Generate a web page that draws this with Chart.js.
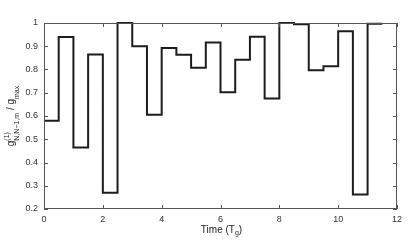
<!DOCTYPE html>
<html><head><meta charset="utf-8">
<script src="https://cdn.jsdelivr.net/npm/chart.js@4/dist/chart.umd.min.js"></script>
<style>html,body{margin:0;padding:0;background:#fff}#c{display:block}</style>
</head><body>
<canvas id="c" width="415" height="241"></canvas>
<script>
const stepStarts = [0,0.5,1,1.5,2,2.5,3,3.5,4,4.5,5,5.5,6,6.5,7,7.5,8,8.5,9,9.5,10,10.5,11,11.5];
const stepValues = [0.58,0.94,0.465,0.865,0.27,1.0,0.90,0.605,0.892,0.863,0.807,0.916,0.702,0.842,0.941,0.675,1.0,0.995,0.797,0.814,0.965,0.262,0.997,0.997];
const xTicks = [0,2,4,6,8,10,12];
const yTicks = [0.2,0.3,0.4,0.5,0.6,0.7,0.8,0.9,1];

const FONT = '"Liberation Sans", Arial, Helvetica, sans-serif';
const AXC = '#555';

const boxPlugin = {
  id: 'box',
  afterDraw(chart) {
    const {ctx, chartArea: a, scales: {x, y}} = chart;
    ctx.save();
    ctx.strokeStyle = AXC; ctx.lineWidth = 1;
    ctx.strokeRect(a.left + 0.5, a.top + 0.5, a.right - a.left - 1, a.bottom - a.top - 1);
    const L = 4;
    ctx.beginPath();
    xTicks.forEach(v => {
      const px = Math.round(x.getPixelForValue(v)) + 0.5;
      ctx.moveTo(px, a.bottom); ctx.lineTo(px, a.bottom - L);
      ctx.moveTo(px, a.top); ctx.lineTo(px, a.top + L);
    });
    yTicks.forEach(v => {
      const py = Math.round(y.getPixelForValue(v)) + 0.5;
      ctx.moveTo(a.left, py); ctx.lineTo(a.left + L, py);
      ctx.moveTo(a.right, py); ctx.lineTo(a.right - L, py);
    });
    ctx.stroke();

    // x title: Time (T_g)
    ctx.fillStyle = '#222';
    ctx.textBaseline = 'alphabetic';
    const f1 = '10px ' + FONT, f2 = '7px ' + FONT;
    ctx.font = f1; const wA = ctx.measureText('Time (T').width, wC = ctx.measureText(')').width;
    ctx.font = f2; const wB = ctx.measureText('g').width;
    const tot = wA + wB + wC;
    let sx = (a.left + a.right) / 2 - tot / 2 + 1;
    const by = 233;
    ctx.font = f1; ctx.textAlign = 'left'; ctx.fillText('Time (T', sx, by);
    ctx.font = f2; ctx.fillText('g', sx + wA, by + 2);
    ctx.font = f1; ctx.fillText(')', sx + wA + wB, by);

    // y title: g^(1)_{N,N-1,m} / g_max
    ctx.translate(14, (a.top + a.bottom) / 2);
    ctx.rotate(-Math.PI / 2);
    const parts = [
      {t: 'g', f: '10px ' + FONT, dy: 0},
      {t: '(1)', f: '7px ' + FONT, dy: -5, stack: true},
      {t: 'N,N\u22121,m', f: '7px ' + FONT, dy: 5},
      {t: ' / g', f: '10px ' + FONT, dy: 0},
      {t: 'max', f: '7px ' + FONT, dy: 5}
    ];
    let w = 0;
    parts.forEach(p => { ctx.font = p.f; p.w = ctx.measureText(p.t).width; if (!p.stack) w += p.w; });
    let cx = -w / 2;
    parts.forEach(p => {
      ctx.font = p.f; ctx.fillText(p.t, cx, p.dy);
      if (!p.stack) cx += p.w;
    });
    ctx.restore();
  }
};

new Chart(document.getElementById('c'), {
  type: 'line',
  data: {
    datasets: [{
      data: stepStarts.map((s, i) => ({x: s, y: stepValues[i]})),
      stepped: 'before',
      borderColor: '#1c1c1c',
      borderWidth: 2,
      pointRadius: 0,
      fill: false,
      clip: false
    }]
  },
  options: {
    responsive: false,
    animation: false,
    devicePixelRatio: 1,
    layout: {padding: {left: 0, right: 18, top: 23, bottom: 0}},
    plugins: {legend: {display: false}, tooltip: {enabled: false}},
    scales: {
      x: {
        type: 'linear', min: 0, max: 12,
        afterFit(s) { s.height = 32; },
        afterBuildTicks(s) { s.ticks = xTicks.map(v => ({value: v})); },
        grid: {display: false, drawTicks: false},
        border: {display: false},
        ticks: {padding: 5, color: '#333', font: {size: 9, family: FONT}, maxRotation: 0,
          callback: v => String(v)}
      },
      y: {
        type: 'linear', min: 0.2, max: 1,
        afterFit(s) { s.width = 44; },
        afterBuildTicks(s) { s.ticks = yTicks.map(v => ({value: v})); },
        grid: {display: false, drawTicks: false},
        border: {display: false},
        ticks: {padding: 6, color: '#333', font: {size: 9, family: FONT},
          callback: v => String(Math.round(v * 10) / 10)}
      }
    }
  },
  plugins: [boxPlugin]
});
</script>
</body></html>
